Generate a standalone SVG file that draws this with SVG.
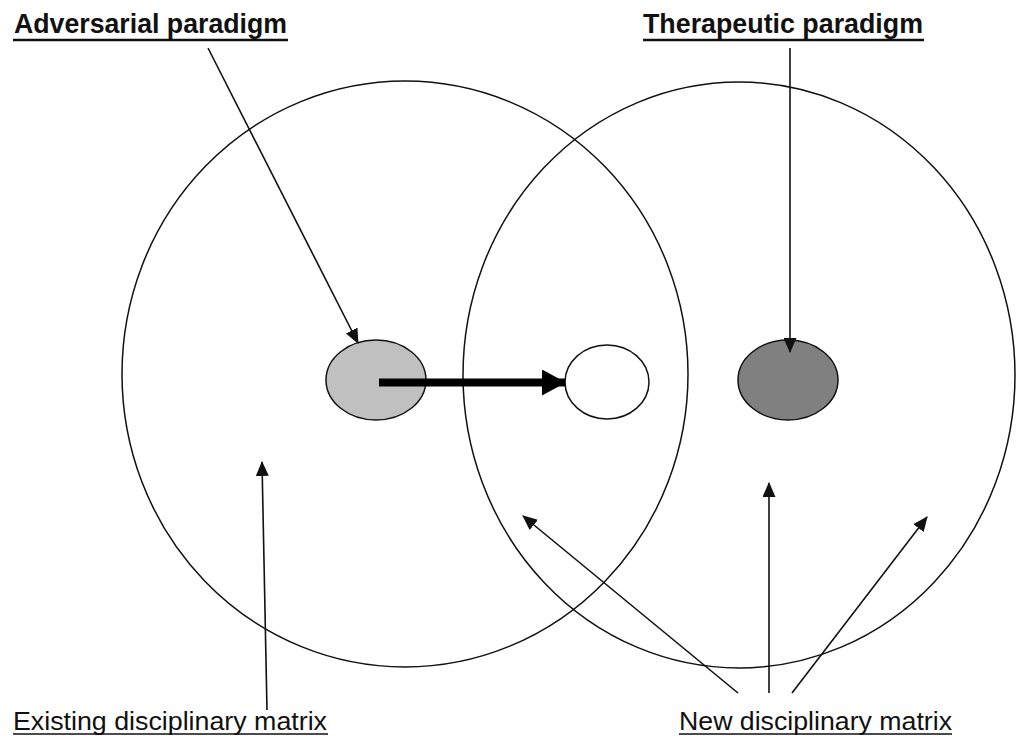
<svg xmlns="http://www.w3.org/2000/svg" width="1016" height="738" viewBox="0 0 1016 738">
  <defs>
    <style>
      .ring { fill: none; stroke: #111; stroke-width: 1.5; }
      .node { stroke: #111; stroke-width: 1.5; }
      .link { fill: none; stroke: #111; stroke-width: 1.6; }
      .title { font-family: "Liberation Sans", Arial, sans-serif; font-weight: bold; font-size: 27px; fill: #111; }
      .label { font-family: "Liberation Sans", Arial, sans-serif; font-size: 26px; fill: #111; }
      .rule { stroke: #111; }
    </style>
    <marker id="tip" markerUnits="userSpaceOnUse" markerWidth="15" markerHeight="13" refX="14" refY="6.5" orient="auto">
      <path d="M0,0 L15,6.5 L0,13 z" fill="#111"/>
    </marker>
    <marker id="bigTip" markerUnits="userSpaceOnUse" markerWidth="24" markerHeight="26" refX="23" refY="13" orient="auto">
      <path d="M0,0 L24,13 L0,26 z" fill="#000"/>
    </marker>
  </defs>
  <rect width="1016" height="738" fill="#fff"/>

  <!-- disciplinary matrices -->
  <g id="existing-matrix">
    <ellipse class="ring" cx="405" cy="374" rx="283" ry="293"/>
  </g>
  <g id="new-matrix">
    <ellipse class="ring" cx="739" cy="375" rx="276" ry="293"/>
  </g>

  <!-- paradigms -->
  <g id="adversarial-node">
    <ellipse class="node" cx="376" cy="380" rx="50" ry="40" fill="#c0c0c0"/>
  </g>
  <g id="shifted-node">
    <ellipse class="node" cx="607" cy="382" rx="42" ry="37" fill="#fff"/>
  </g>
  <g id="therapeutic-node">
    <ellipse class="node" cx="788" cy="380" rx="50" ry="40" fill="#808080"/>
  </g>

  <!-- connectors -->
  <g id="connectors">
    <line x1="379" y1="382.5" x2="565" y2="382.5" stroke="#000" stroke-width="8" marker-end="url(#bigTip)"/>
    <line class="link" x1="208" y1="48" x2="358" y2="343" marker-end="url(#tip)"/>
    <line class="link" x1="790" y1="48" x2="790" y2="352" marker-end="url(#tip)"/>
    <line class="link" x1="267" y1="710" x2="262" y2="462" marker-end="url(#tip)"/>
    <line class="link" x1="738" y1="693" x2="523" y2="516" marker-end="url(#tip)"/>
    <line class="link" x1="769" y1="693" x2="769" y2="483" marker-end="url(#tip)"/>
    <line class="link" x1="792" y1="693" x2="927" y2="517" marker-end="url(#tip)"/>
  </g>

  <!-- labels -->
  <g id="label-adversarial">
    <text class="title" x="14" y="33" textLength="273" lengthAdjust="spacingAndGlyphs">Adversarial paradigm</text>
    <line class="rule" x1="13" y1="40" x2="288" y2="40" stroke-width="2.4"/>
  </g>
  <g id="label-therapeutic">
    <text class="title" x="643" y="33" textLength="280" lengthAdjust="spacingAndGlyphs">Therapeutic paradigm</text>
    <line class="rule" x1="643" y1="40" x2="924" y2="40" stroke-width="2.4"/>
  </g>
  <g id="label-existing">
    <text class="label" x="13" y="730" textLength="314" lengthAdjust="spacingAndGlyphs">Existing disciplinary matrix</text>
    <line class="rule" x1="13" y1="734" x2="328" y2="734" stroke-width="1.6"/>
  </g>
  <g id="label-new">
    <text class="label" x="679" y="730" textLength="273" lengthAdjust="spacingAndGlyphs">New disciplinary matrix</text>
    <line class="rule" x1="679" y1="734" x2="952" y2="734" stroke-width="1.6"/>
  </g>
</svg>
